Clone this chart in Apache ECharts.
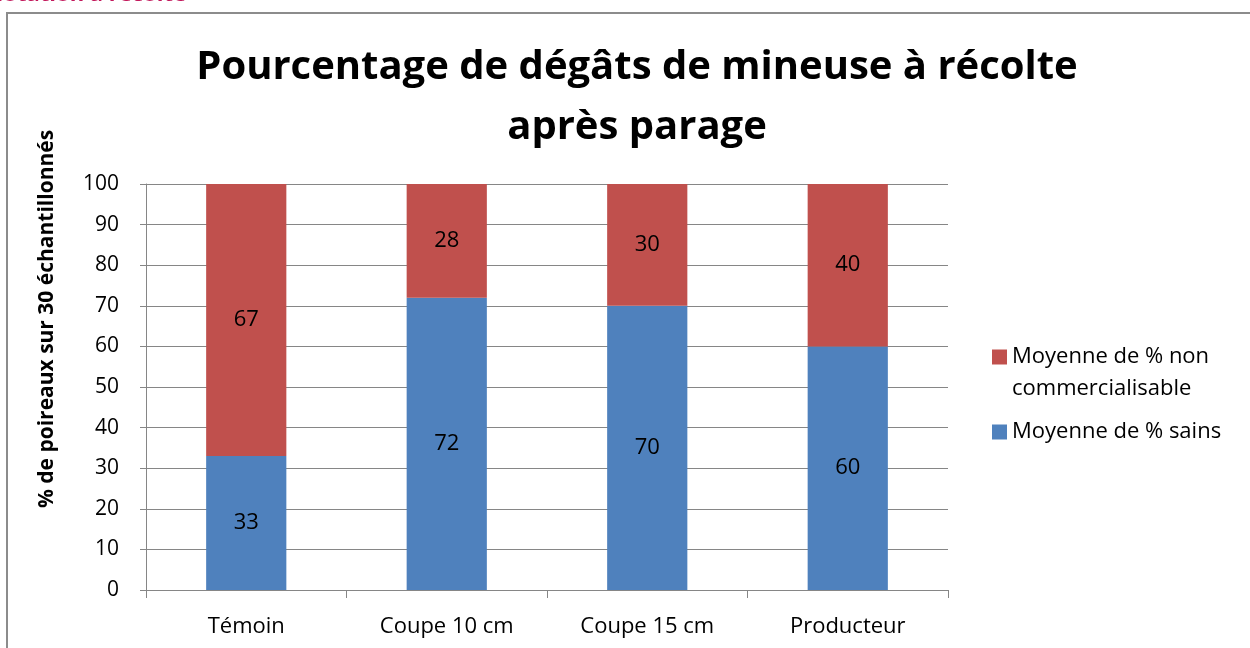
<!DOCTYPE html>
<html>
<head>
<meta charset="utf-8">
<script src="https://cdn.jsdelivr.net/npm/echarts@6/dist/echarts.min.js"></script>
<style>
  html, body { margin: 0; padding: 0; background: #fff; }
  #chart { width: 1250px; height: 648px; }
</style>
</head>
<body>
<div id="chart"></div>
<script>
var categories = ['Témoin', 'Coupe 10 cm', 'Coupe 15 cm', 'Producteur'];
var sains = [33, 72, 70, 60];
var nonCommercialisable = [67, 28, 30, 40];
var yTicks = [0, 10, 20, 30, 40, 50, 60, 70, 80, 90, 100];

var FONT = '"Open Sans", "Liberation Sans", sans-serif';
var axisGrey = '#868686';

var chart = echarts.init(document.getElementById('chart'), null, { renderer: 'canvas' });

var legendText = {
  fontFamily: FONT,
  fontSize: 22,
  lineHeight: 32,
  color: '#000'
};

var option = {
  backgroundColor: '#fff',
  animation: false,
  textStyle: { fontFamily: FONT },
  title: {
    text: 'Pourcentage de dégâts de mineuse à récolte\naprès parage',
    left: 632,
    top: 33,
    textAlign: 'center',
    textStyle: {
      fontFamily: FONT,
      fontWeight: 'bold',
      fontSize: 40,
      lineHeight: 60,
      color: '#000'
    }
  },
  graphic: [
    // chart frame (cropped on the right and bottom)
    {
      type: 'rect',
      shape: { x: 7, y: 13, width: 1260, height: 660 },
      style: { fill: 'none', stroke: '#8c8c8c', lineWidth: 2 },
      silent: true
    },
    // cut-off heading above the chart
    {
      type: 'text',
      x: 186,
      y: 6,
      style: {
        text: 'Notation à récolte',
        fill: '#c2185b',
        font: 'bold 22px ' + FONT,
        align: 'right',
        verticalAlign: 'bottom'
      }
    },
    // y axis title
    {
      type: 'text',
      x: 47,
      y: 319,
      rotation: Math.PI / 2,
      style: {
        text: '% de poireaux sur 30 échantillonnés',
        fill: '#000',
        font: 'bold 21px ' + FONT,
        align: 'center',
        verticalAlign: 'middle'
      }
    }
  ],
  legend: [
    {
      orient: 'vertical',
      left: 992,
      top: 341 - 32,
      padding: 0,
      itemWidth: 15,
      itemHeight: 15,
      icon: 'rect',
      data: ['Moyenne de % non commercialisable'],
      // empty first line keeps the first text line level with the square
      formatter: function (name) {
        return '\n' + name.replace('% non ', '% non\n');
      },
      textStyle: legendText
    },
    {
      orient: 'vertical',
      left: 992,
      top: 416,
      padding: 0,
      itemWidth: 15,
      itemHeight: 15,
      icon: 'rect',
      data: ['Moyenne de % sains'],
      textStyle: legendText
    }
  ],
  grid: {
    left: 146,
    right: 302,
    top: 184,
    bottom: 58,
    containLabel: false
  },
  xAxis: {
    type: 'category',
    data: categories,
    axisLine: { lineStyle: { color: axisGrey, width: 1 } },
    axisTick: { show: true, length: 8, lineStyle: { color: axisGrey } },
    axisLabel: {
      color: '#000',
      fontSize: 22,
      fontFamily: FONT,
      margin: 26
    }
  },
  yAxis: {
    type: 'value',
    min: 0,
    max: 100,
    interval: 10,
    axisLine: { show: true, lineStyle: { color: axisGrey, width: 1 } },
    axisTick: { show: true, length: 6, lineStyle: { color: axisGrey } },
    splitLine: { show: true, lineStyle: { color: axisGrey, width: 1 } },
    axisLabel: {
      color: '#000',
      fontSize: 21,
      fontFamily: FONT,
      margin: 27,
      formatter: function (v) { return yTicks.indexOf(v) >= 0 ? String(v) : ''; }
    }
  },
  series: [
    {
      name: 'Moyenne de % sains',
      type: 'bar',
      stack: 'total',
      barWidth: '40%',
      data: sains,
      itemStyle: { color: '#4f81bd' },
      label: {
        show: true,
        position: 'inside',
        color: '#000',
        fontSize: 22,
        fontFamily: FONT
      }
    },
    {
      name: 'Moyenne de % non commercialisable',
      type: 'bar',
      stack: 'total',
      barWidth: '40%',
      data: nonCommercialisable,
      itemStyle: { color: '#c0504d' },
      label: {
        show: true,
        position: 'inside',
        color: '#000',
        fontSize: 22,
        fontFamily: FONT
      }
    }
  ]
};

chart.setOption(option);
</script>
</body>
</html>
